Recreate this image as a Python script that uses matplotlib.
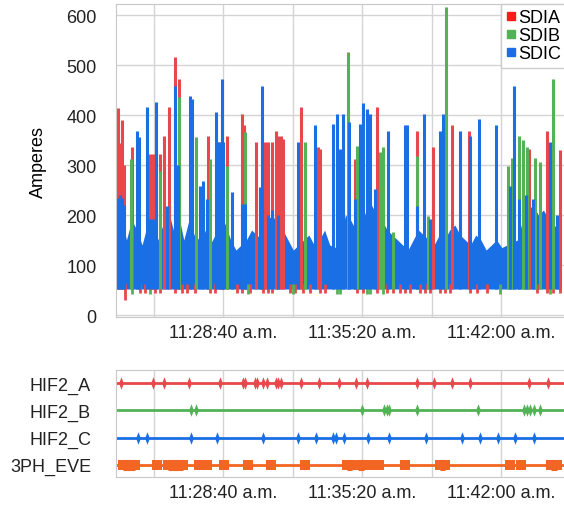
import matplotlib.pyplot as plt
from matplotlib.ticker import FixedLocator, FuncFormatter

plt.rcParams['font.family'] = ['Liberation Sans', 'DejaVu Sans']

# times are seconds after 11:00:00
# SDIA / SDIB / SDIC current spikes (time, amperes)
sdia_t = [1416, 1422, 1428, 1434, 1457, 1508, 1517, 1537, 1549, 1563, 1580, 1592, 1675,
          1707, 1716, 1730, 1773, 1779, 1814, 1839, 1848, 1860, 1871, 1877, 1885, 1891,
          1943, 1992, 1998, 2098, 2162, 2277, 2323, 2378, 2427, 2599, 2651, 2688]
sdia_v = [415, 345, 390, 300, 336, 322, 322, 322, 358, 416, 516, 472, 358,
          346, 346, 358, 402, 380, 346, 346, 346, 346, 368, 358, 358, 352,
          416, 336, 332, 312, 416, 368, 336, 380, 368, 332, 368, 330]

sdib_t = [1454, 1537, 1592, 1641, 1681, 1730, 1782, 1955, 2078, 2104, 2170, 2179, 2208,
          2277, 2309, 2360, 2539, 2550, 2570, 2582, 2593, 2617, 2631, 2668]
sdib_v = [312, 288, 436, 357, 312, 298, 366, 346, 526, 338, 326, 336, 166,
          318, 198, 616, 298, 314, 358, 350, 336, 314, 306, 472]

sdic_t = [1416, 1422, 1428, 1434, 1471, 1477, 1500, 1508, 1517, 1526, 1557, 1580, 1589,
          1624, 1629, 1652, 1661, 1673, 1698, 1707, 1716, 1719, 1744, 1773, 1782, 1826,
          1831, 1848, 1860, 1877, 1934, 1983, 2035, 2047, 2055, 2064, 2081, 2098, 2113,
          2121, 2133, 2142, 2156, 2193, 2242, 2248, 2277, 2297, 2314, 2343, 2352, 2401,
          2429, 2455, 2504, 2545, 2556, 2570, 2590, 2610, 2660, 2680]
sdic_v = [234, 240, 234, 220, 368, 356, 416, 192, 192, 426, 218, 458, 300,
          438, 432, 258, 268, 232, 406, 346, 472, 346, 246, 222, 222, 256,
          458, 200, 210, 200, 346, 380, 382, 402, 332, 402, 386, 232, 382,
          424, 412, 402, 252, 368, 380, 380, 218, 402, 192, 368, 402, 368,
          358, 392, 380, 258, 458, 232, 240, 232, 346, 200]

# dense base band (mostly SDIC on top), one value every 15 s
band_t = list(range(1411, 2700, 15))
band_hi = [160, 200, 150, 190, 170, 140, 180, 190, 150, 180, 210, 170, 200, 150, 190,
           160, 150, 170, 140, 160, 200, 180, 150, 130, 140, 150, 170, 160, 150, 190,
           200, 180, 170, 150, 130, 140, 150, 160, 140, 150, 170, 140, 135, 150, 200,
           190, 170, 180, 210, 220, 200, 190, 170, 160, 150, 140, 130, 150, 170, 160,
           150, 140, 160, 150, 170, 180, 160, 150, 140, 160, 150, 130, 140, 150, 135,
           140, 145, 150, 190, 210, 220, 200, 210, 190, 180, 170]
band_lo = 52

# short dips below the band
sdia_dip_t = [1437, 1480, 1494, 1523, 1537, 1580, 1601, 1615, 1638, 1681, 1696, 1759, 1773,
              1796, 1834, 1848, 1860, 1911, 1926, 1949, 1969, 1998, 2012, 2104, 2121, 2162,
              2191, 2208, 2228, 2242, 2257, 2286, 2300, 2314, 2343, 2357, 2372, 2429, 2450,
              2478, 2622, 2651, 2668, 2688]
sdia_dip_v = [30] + [44] * 43
sdib_dip_t = [1457, 1508, 1791, 1920, 2047, 2055, 2133, 2142, 2179, 2516, 2660]
sdib_dip_v = [42] * 11

# event channels
hif_a = [1425, 1517, 1549, 1621, 1710, 1776, 1782, 1811, 1816, 1834, 1845, 1871, 1877,
         1885, 1943, 1995, 2052, 2101, 2133, 2277, 2326, 2378, 2429, 2599, 2654]
hif_b = [1626, 1641, 2119, 2182, 2191, 2196, 2277, 2452, 2585, 2593, 2602, 2614, 2631]
hif_c = [1474, 1500, 1626, 1701, 1834, 1934, 1986, 2035, 2044, 2067, 2136, 2196, 2303,
         2406, 2458, 2510, 2559, 2614]
eve_start = [1431, 1529, 1560, 1650, 1673, 1721, 1791, 1857, 1955, 2075, 2107, 2142, 2168,
             2242, 2343, 2545, 2576, 2663]
eve_end = [1465, 1529, 1603, 1650, 1673, 1721, 1791, 1857, 1955, 2090, 2124, 2142, 2168,
           2242, 2357, 2545, 2576, 2680]

channels = ['HIF2_A', 'HIF2_B', 'HIF2_C', '3PH_EVE']

red = '#e8474c'
green = '#52b255'
blue = '#1a6fe4'
orange = '#f26522'
grid_c = '#d4d4d4'

x_min, x_max = 1411, 2700
label_ticks = [1720, 2120, 2520]
grid_ticks = [1520, 1920, 2320]

# slim vertical diamond used for the HIF2 events
slim_diamond = [(0, -1), (0.38, 0), (0, 1), (-0.38, 0), (0, -1)]


def fmt_time(t, pos=None):
    t = int(round(t))
    h = 11 + t // 3600
    m = (t % 3600) // 60
    s = t % 60
    return f'{h}:{m:02d}:{s:02d} a.m.'


fig = plt.figure(figsize=(5.64, 5.06), dpi=100)
ax1 = fig.add_axes([0.2057, 0.3715, 0.7943, 0.6186])
ax2 = fig.add_axes([0.2057, 0.0553, 0.7943, 0.2115])

# ---- top panel
ax1.vlines(sdia_dip_t, sdia_dip_v, band_lo + 10, color=red, lw=2)
ax1.vlines(sdib_dip_t, sdib_dip_v, band_lo + 10, color=green, lw=2)
ax1.vlines(sdia_t, band_lo, sdia_v, color=red, lw=2.2)
ax1.vlines(sdib_t, band_lo, sdib_v, color=green, lw=2.2)
ax1.fill_between(band_t, band_lo, band_hi, color=blue, lw=0)
ax1.vlines(sdic_t, band_lo, sdic_v, color=blue, lw=2.2)

# legend handles
ax1.plot([], [], 's', color='#ff1a1a', ms=6, label='SDIA')
ax1.plot([], [], 's', color=green, ms=6, label='SDIB')
ax1.plot([], [], 's', color=blue, ms=6, label='SDIC')
leg = ax1.legend(loc='upper right', bbox_to_anchor=(1.005, 1.0), fontsize=13,
                 handlelength=0.5, handletextpad=0.15, labelspacing=0.05,
                 borderpad=0.3, borderaxespad=0.0, fancybox=False, framealpha=1)
leg.get_frame().set_edgecolor('#cccccc')
leg.get_frame().set_linewidth(1)

ax1.set_xlim(x_min, x_max)
ax1.set_ylim(-4, 622)
ax1.set_yticks([0, 100, 200, 300, 400, 500, 600])
ax1.set_ylabel('Amperes', fontsize=13, labelpad=14)

# ---- bottom panel
ypos = [0, 1, 2, 3]
for y, c in zip(ypos, [red, green, blue, orange]):
    ax2.plot([x_min, x_max], [y, y], color=c, lw=2)
ax2.plot(hif_a, [0] * len(hif_a), marker=slim_diamond, ls='none', color=red, ms=9, mew=0)
ax2.plot(hif_b, [1] * len(hif_b), marker=slim_diamond, ls='none', color=green, ms=9, mew=0)
ax2.plot(hif_c, [2] * len(hif_c), marker=slim_diamond, ls='none', color=blue, ms=9, mew=0)
ax2.hlines([3] * len(eve_start), eve_start, eve_end, color=orange, lw=8)
ax2.plot(eve_start, [3] * len(eve_start), 's', color=orange, ms=7.5, mew=0)
ax2.plot(eve_end, [3] * len(eve_end), 's', color=orange, ms=7.5, mew=0)

ax2.set_xlim(x_min, x_max)
ax2.set_ylim(3.45, -0.48)
ax2.set_yticks(ypos)
ax2.set_yticklabels(channels)

for ax in (ax1, ax2):
    ax.xaxis.set_major_locator(FixedLocator(label_ticks))
    ax.xaxis.set_minor_locator(FixedLocator(grid_ticks))
    ax.xaxis.set_major_formatter(FuncFormatter(fmt_time))
    ax.grid(True, which='both', axis='x', color=grid_c, lw=1)
    ax.tick_params(which='both', length=0, labelsize=13, colors='#222222')
    ax.tick_params(axis='x', pad=5)
    ax.set_axisbelow(True)
    for side in ['top', 'left', 'bottom']:
        ax.spines[side].set_color('#c8c8c8')
    ax.spines['right'].set_visible(False)

ax1.grid(True, axis='y', color=grid_c, lw=1)
ax1.tick_params(axis='y', pad=14)
ax2.tick_params(axis='y', pad=18)

fig.savefig('out.png', dpi=100)
